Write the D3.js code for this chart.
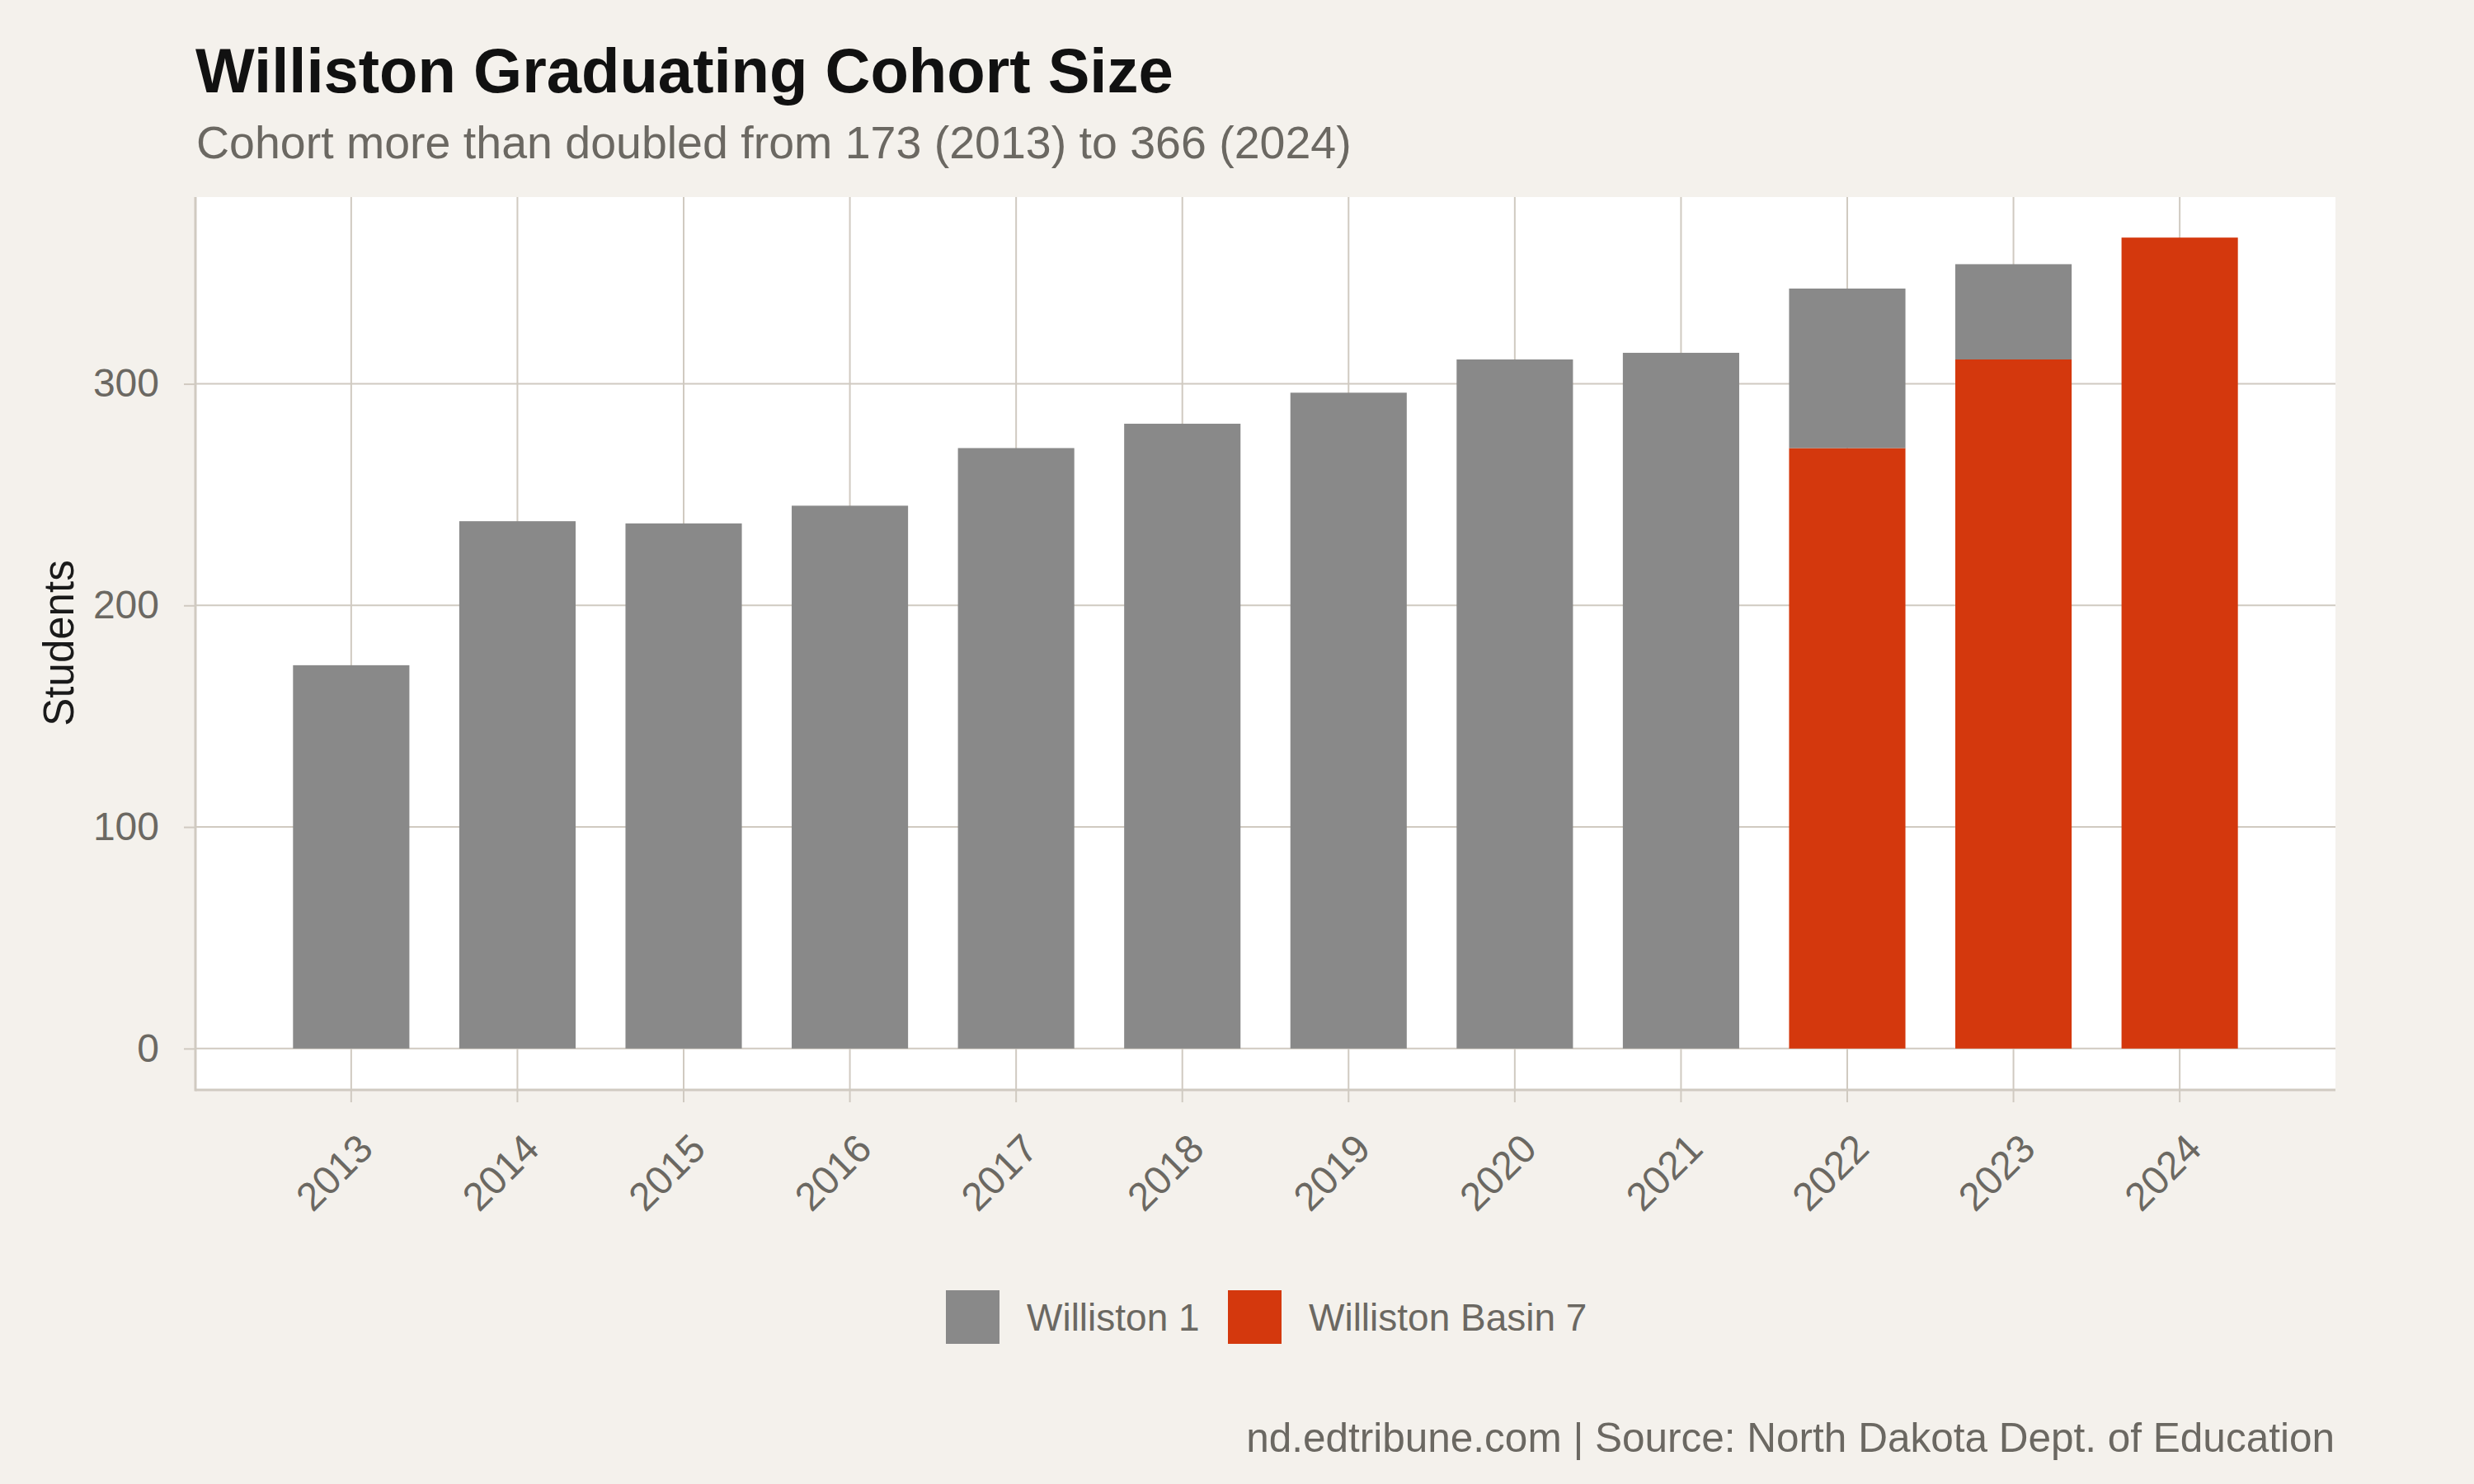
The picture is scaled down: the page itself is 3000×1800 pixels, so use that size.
<!DOCTYPE html>
<html>
<head>
<meta charset="utf-8">
<script src="https://cdn.jsdelivr.net/npm/d3@7"></script>
<style>
  body { margin: 0; background: #f4f1ec; }
  text { font-family: "Liberation Sans", Arial, sans-serif; }
</style>
</head>
<body>
<div id="chart_div"></div>
<script>
// data
const years = ["2013", "2014", "2015", "2016", "2017", "2018", "2019", "2020", "2021", "2022", "2023", "2024"];
const williston1 = [173, 238, 237, 245, 271, 282, 296, 311, 314, 72, 43, 0];
const basin7 = [0, 0, 0, 0, 0, 0, 0, 0, 0, 271, 311, 366];
const seriesNames = ["Williston 1", "Williston Basin 7"];
const seriesColors = ["#898989", "#d4380d"];
const yTicks = [0, 100, 200, 300];

const width = 3000, height = 1800;
// panel box
const panel = {left: 237, right: 2832, top: 239, bottom: 1321};

const svg = d3.select("#chart_div")
  .append("svg")
    .attr("width", width)
    .attr("height", height);

svg.append("rect")
  .attr("width", width).attr("height", height)
  .style("fill", "#f4f1ec");

svg.append("rect")
  .attr("x", panel.left).attr("y", panel.top)
  .attr("width", panel.right - panel.left)
  .attr("height", panel.bottom - panel.top)
  .style("fill", "#ffffff");

// build rows for the stack
const rows = years.map((y, i) => ({year: y, "Williston 1": williston1[i], "Williston Basin 7": basin7[i]}));

const x = d3.scaleBand()
  .domain(years)
  .range([panel.left, panel.right])
  .paddingInner(0.3)
  .paddingOuter(0.587);

const maxTotal = d3.max(rows, d => d["Williston 1"] + d["Williston Basin 7"]);
const yPad = maxTotal * 0.05;
const y = d3.scaleLinear()
  .domain([-yPad, maxTotal + yPad])
  .range([panel.bottom, panel.top]);

const gridColor = "#d0cac1";

// gridlines
svg.append("g")
  .selectAll("line")
  .data(yTicks)
  .join("line")
    .attr("x1", panel.left).attr("x2", panel.right)
    .attr("y1", d => y(d)).attr("y2", d => y(d))
    .style("stroke", gridColor).style("stroke-width", 2);

svg.append("g")
  .selectAll("line")
  .data(years)
  .join("line")
    .attr("x1", d => x(d) + x.bandwidth() / 2).attr("x2", d => x(d) + x.bandwidth() / 2)
    .attr("y1", panel.top).attr("y2", panel.bottom)
    .style("stroke", gridColor).style("stroke-width", 2);

// stacked bars (Basin 7 at the bottom)
const color = d3.scaleOrdinal().domain(seriesNames).range(seriesColors);
const stackedData = d3.stack()
  .keys(["Williston Basin 7", "Williston 1"])
  (rows);

svg.append("g")
  .selectAll("g")
  .data(stackedData)
  .join("g")
    .style("fill", d => color(d.key))
  .selectAll("rect")
  .data(d => d.filter(s => s[1] > s[0]))
  .join("rect")
    .attr("x", d => x(d.data.year))
    .attr("y", d => y(d[1]))
    .attr("width", x.bandwidth())
    .attr("height", d => y(d[0]) - y(d[1]));

// axes
const yAxis = svg.append("g")
  .attr("transform", `translate(${panel.left}, 0)`)
  .call(d3.axisLeft(y).tickValues(yTicks).tickSize(14).tickPadding(30));
yAxis.select(".domain").remove();
yAxis.selectAll(".tick line").style("stroke", gridColor).style("stroke-width", 2);
yAxis.selectAll(".tick text")
  .style("font-size", "48px").style("fill", "#6b6862")
  .style("font-family", "Liberation Sans, Arial, sans-serif");

const xAxis = svg.append("g")
  .attr("transform", `translate(0, ${panel.bottom})`)
  .call(d3.axisBottom(x).tickSize(16).tickSizeOuter(0));
xAxis.select(".domain").remove();
xAxis.selectAll(".tick line").style("stroke", gridColor).style("stroke-width", 2);
xAxis.selectAll(".tick text")
  .attr("text-anchor", "end")
  .attr("dy", null).attr("y", null)
  .attr("transform", "translate(29, 75) rotate(-45)")
  .style("font-size", "48px").style("fill", "#6b6862")
  .style("font-family", "Liberation Sans, Arial, sans-serif");

// axis lines
svg.append("line")
  .attr("x1", panel.left).attr("x2", panel.right)
  .attr("y1", panel.bottom + 1).attr("y2", panel.bottom + 1)
  .style("stroke", gridColor).style("stroke-width", 3);
svg.append("line")
  .attr("x1", panel.left).attr("x2", panel.left)
  .attr("y1", panel.top).attr("y2", panel.bottom + 2.5)
  .style("stroke", gridColor).style("stroke-width", 3);

// y label
svg.append("text")
  .attr("transform", `translate(89, ${(panel.top + panel.bottom) / 2}) rotate(-90)`)
  .attr("text-anchor", "middle")
  .style("font-size", "51px").style("fill", "#1a1a1a")
  .text("Students");

// title + subtitle
svg.append("text")
  .attr("x", 237).attr("y", 112)
  .style("font-size", "76px").style("font-weight", "bold").style("fill", "#111111")
  .text("Williston Graduating Cohort Size");

svg.append("text")
  .attr("x", 238).attr("y", 192)
  .style("font-size", "55.5px").style("fill", "#6b6862")
  .text("Cohort more than doubled from 173 (2013) to 366 (2024)");

// legend
const legendX = [1147, 1489];
const legend = svg.append("g")
  .selectAll("g")
  .data(seriesNames)
  .join("g")
    .attr("transform", (d, i) => `translate(${legendX[i]}, 1565)`);
legend.append("rect")
  .attr("width", 65).attr("height", 65)
  .style("fill", d => color(d));
legend.append("text")
  .attr("x", 98).attr("y", 49)
  .style("font-size", "46px").style("fill", "#6b6862")
  .text(d => d);

// caption
svg.append("text")
  .attr("x", 2831).attr("y", 1761)
  .attr("text-anchor", "end")
  .style("font-size", "49.5px").style("fill", "#6b6862")
  .text("nd.edtribune.com | Source: North Dakota Dept. of Education");
</script>
</body>
</html>
